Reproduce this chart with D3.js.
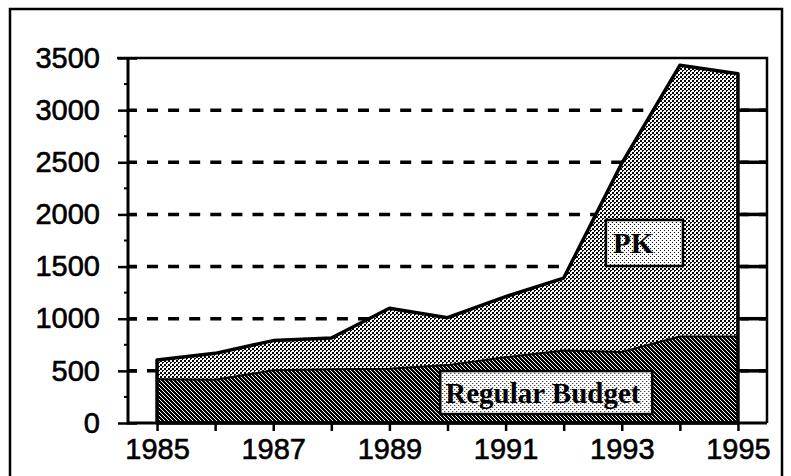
<!DOCTYPE html>
<html>
<head>
<meta charset="utf-8">
<script src="https://cdn.jsdelivr.net/npm/d3@7"></script>
<style>
  body { margin: 0; background: #fff; }
  svg { display: block; }
</style>
</head>
<body>
<div id="container"></div>
<script>
const width = 791;
const height = 476;
const margin = { top: 58, right: 24, bottom: 53, left: 128 };

// values (millions of dollars)
const years = [1985, 1986, 1987, 1988, 1989, 1990, 1991, 1992, 1993, 1994, 1995];
const regularBudget = [420, 415, 505, 515, 520, 555, 630, 695, 680, 830, 830];
const peacekeeping = [184, 253, 285, 300, 580, 455, 582, 695, 1810, 2600, 2520];
const yTicks = [0, 500, 1000, 1500, 2000, 2500, 3000, 3500];
const yMinorTicks = [250, 750, 1250, 1750, 2250, 2750, 3250];
const labelledYears = [1985, 1987, 1989, 1991, 1993, 1995];

const rows = years.map((yr, i) => ({
  year: yr,
  regular: regularBudget[i],
  pk: peacekeeping[i],
}));

const svg = d3.select("#container")
  .append("svg")
  .attr("width", width)
  .attr("height", height);

// fill patterns imitating the old bitmap shading
const defs = svg.append("defs");

const pkPat = defs.append("pattern")
  .attr("id", "pk-fill")
  .attr("patternUnits", "userSpaceOnUse")
  .attr("width", 4).attr("height", 4);
pkPat.append("rect").attr("width", 4).attr("height", 4).attr("fill", "#fff");
[[0, 0], [1, 0], [0, 1], [1, 1], [2, 2], [3, 2], [2, 3]].forEach(([px, py]) =>
  pkPat.append("rect").attr("x", px).attr("y", py).attr("width", 1).attr("height", 1).attr("fill", "#000"));

const rbPat = defs.append("pattern")
  .attr("id", "rb-fill")
  .attr("patternUnits", "userSpaceOnUse")
  .attr("width", 4).attr("height", 4);
rbPat.append("rect").attr("width", 4).attr("height", 4).attr("fill", "#000");
[[0, 0], [1, 1], [2, 2], [3, 3]].forEach(([px, py]) =>
  rbPat.append("rect").attr("x", px).attr("y", py).attr("width", 1).attr("height", 1).attr("fill", "#fff"));

const boxPat = defs.append("pattern")
  .attr("id", "box-fill")
  .attr("patternUnits", "userSpaceOnUse")
  .attr("width", 4).attr("height", 4);
boxPat.append("rect").attr("width", 4).attr("height", 4).attr("fill", "#fff");
[[0, 0], [2, 2]].forEach(([px, py]) =>
  boxPat.append("rect").attr("x", px).attr("y", py).attr("width", 1).attr("height", 1).attr("fill", "#000"));

// outer frame
svg.append("rect")
  .attr("x", 10).attr("y", 9)
  .attr("width", 772).attr("height", 490)
  .attr("fill", "#fff")
  .attr("stroke", "#000")
  .attr("stroke-width", 2.5);

const x = d3.scaleLinear()
  .domain([1984.5, 1995.5])
  .range([margin.left, width - margin.right]);

const y = d3.scaleLinear()
  .domain([0, 3500])
  .range([height - margin.bottom, margin.top]);

// dashed gridlines
svg.append("g")
  .selectAll("line")
  .data(yTicks.filter((d) => d > 0 && d < 3500))
  .join("line")
  .attr("x1", x.range()[0])
  .attr("x2", x.range()[1])
  .attr("y1", (d) => y(d))
  .attr("y2", (d) => y(d))
  .attr("stroke", "#000")
  .attr("stroke-width", 3.5)
  .attr("stroke-dasharray", "11 10.1")
  .attr("stroke-dashoffset", 2.1);

const stack = d3.stack().keys(["regular", "pk"]);
const series = stack(rows);

const area = d3.area()
  .x((d) => x(d.data.year))
  .y0((d) => y(d[0]))
  .y1((d) => y(d[1]));

svg.append("g")
  .selectAll("path")
  .data(series)
  .join("path")
  .attr("fill", (d) => (d.key === "regular" ? "url(#rb-fill)" : "url(#pk-fill)"))
  .attr("d", area);

// regular budget top edge
svg.append("path")
  .datum(series[0])
  .attr("fill", "none")
  .attr("stroke", "#000")
  .attr("stroke-width", 2)
  .attr("d", d3.line().x((d) => x(d.data.year)).y((d) => y(d[1])));

// outline of the total
svg.append("path")
  .datum(series[1])
  .attr("fill", "none")
  .attr("stroke", "#000")
  .attr("stroke-width", 3.5)
  .attr("stroke-linejoin", "round")
  .attr("d", d3.area().x((d) => x(d.data.year)).y0(y(0)).y1((d) => y(d[1])));

// axes
const tickFont = (sel) => sel
  .attr("font-family", "'Liberation Sans', Arial, sans-serif")
  .attr("font-size", 29)
  .attr("fill", "#000")
  .attr("stroke", "#000")
  .attr("stroke-width", 0.6);

const yAxis = svg.append("g")
  .attr("transform", `translate(${margin.left},0)`)
  .call(d3.axisLeft(y).tickValues(yTicks).tickFormat(d3.format("d")).tickSize(10).tickPadding(18));

yAxis.select(".domain").remove();
yAxis.selectAll(".tick line")
  .attr("x1", 9)
  .attr("stroke-width", 2.5);
yAxis.selectAll(".tick text").call(tickFont);

yAxis.selectAll(".minor")
  .data(yMinorTicks)
  .join("line")
  .attr("class", "minor")
  .attr("x1", -4).attr("x2", 0)
  .attr("y1", (d) => y(d)).attr("y2", (d) => y(d))
  .attr("stroke", "#000")
  .attr("stroke-width", 2);

const xAxis = svg.append("g")
  .attr("transform", `translate(0,${y(0)})`)
  .call(d3.axisBottom(x)
    .tickValues(years)
    .tickSize(8)
    .tickPadding(7)
    .tickFormat((d) => (labelledYears.includes(d) ? String(d) : "")));

xAxis.select(".domain").remove();
xAxis.selectAll(".tick line").attr("stroke-width", 2.5);
xAxis.selectAll(".tick text").call(tickFont);

// right side ticks pointing inward
svg.append("g")
  .selectAll("line")
  .data(yTicks.filter((d) => d > 0 && d < 3500))
  .join("line")
  .attr("x1", x.range()[1] - 26)
  .attr("x2", x.range()[1])
  .attr("y1", (d) => y(d))
  .attr("y2", (d) => y(d))
  .attr("stroke", "#000")
  .attr("stroke-width", 3.5);

// plot frame
const [x0, x1] = x.range();
const [yb, yt] = y.range();
svg.append("path")
  .attr("fill", "none")
  .attr("stroke", "#000")
  .attr("stroke-width", 2.5)
  .attr("d", `M${x0 - 11},${yt}H${x1}V${yb}`);
svg.append("path")
  .attr("fill", "none")
  .attr("stroke", "#000")
  .attr("stroke-width", 3)
  .attr("d", `M${x0},${yt}V${yb}H${x1}`);

// series labels
const labels = [
  { text: "PK", year: 1993.39, value: 1726, w: 77, h: 46, dx: 7 },
  { text: "Regular Budget", year: 1991.7, value: 292, w: 212, h: 43, dx: 5 },
];

const labelG = svg.append("g")
  .selectAll("g")
  .data(labels)
  .join("g")
  .attr("transform", (d) => `translate(${x(d.year) - d.w / 2},${y(d.value) - d.h / 2})`);

labelG.append("rect")
  .attr("width", (d) => d.w)
  .attr("height", (d) => d.h)
  .attr("fill", "url(#box-fill)")
  .attr("stroke", "#000")
  .attr("stroke-width", 2.5);

labelG.append("text")
  .attr("x", (d) => d.dx)
  .attr("y", (d) => d.h / 2 + 10)
  .attr("font-family", "'Liberation Serif', 'Times New Roman', serif")
  .attr("font-weight", "bold")
  .attr("font-size", 29)
  .attr("fill", "#000")
  .text((d) => d.text);
</script>
</body>
</html>
